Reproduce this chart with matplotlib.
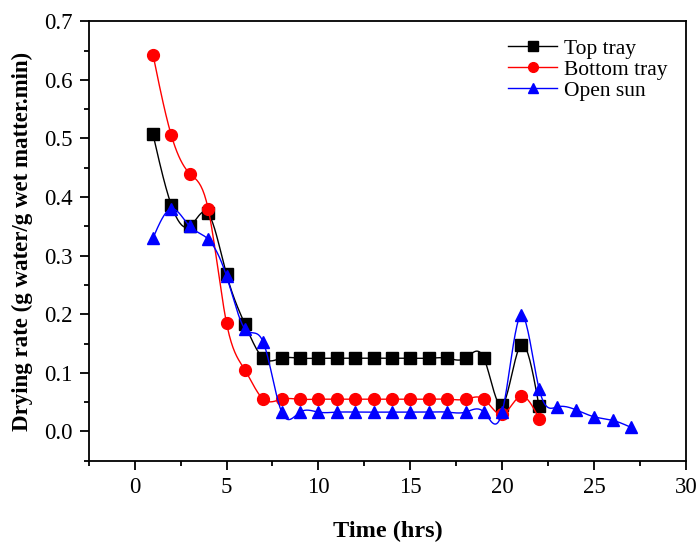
import numpy as np
import matplotlib.pyplot as plt
from matplotlib.ticker import MultipleLocator

plt.rcParams["font.family"] = ["Liberation Serif", "DejaVu Serif"]

time_top = [1, 2, 3, 4, 5, 6, 7, 8, 9, 10, 11, 12, 13, 14, 15, 16, 17, 18, 19, 20, 21, 22]
top_tray = [0.507, 0.386, 0.350, 0.372, 0.268, 0.183, 0.125, 0.125, 0.125, 0.125, 0.125,
            0.125, 0.125, 0.125, 0.125, 0.125, 0.125, 0.125, 0.125, 0.045, 0.147, 0.043]

time_bottom = [1, 2, 3, 4, 5, 6, 7, 8, 9, 10, 11, 12, 13, 14, 15, 16, 17, 18, 19, 20, 21, 22]
bottom_tray = [0.643, 0.505, 0.440, 0.380, 0.185, 0.105, 0.055, 0.055, 0.055, 0.055, 0.055,
               0.055, 0.055, 0.055, 0.055, 0.055, 0.055, 0.055, 0.055, 0.029, 0.060, 0.022]

time_sun = [1, 2, 3, 4, 5, 6, 7, 8, 9, 10, 11, 12, 13, 14, 15, 16, 17, 18, 19, 20, 21, 22,
            23, 24, 25, 26, 27]
open_sun = [0.330, 0.380, 0.350, 0.328, 0.265, 0.175, 0.152, 0.033, 0.033, 0.033, 0.033,
            0.033, 0.033, 0.033, 0.033, 0.033, 0.033, 0.033, 0.033, 0.034, 0.198, 0.073,
            0.042, 0.037, 0.025, 0.019, 0.007]


def natural_spline(x, y, n=20):
    # natural cubic spline through the points, for the smoothed connecting line
    x = np.asarray(x, float)
    y = np.asarray(y, float)
    k = len(x)
    h = np.diff(x)
    A = np.zeros((k, k))
    b = np.zeros(k)
    A[0, 0] = A[-1, -1] = 1
    for i in range(1, k - 1):
        A[i, i - 1] = h[i - 1]
        A[i, i] = 2 * (h[i - 1] + h[i])
        A[i, i + 1] = h[i]
        b[i] = 6 * ((y[i + 1] - y[i]) / h[i] - (y[i] - y[i - 1]) / h[i - 1])
    M = np.linalg.solve(A, b)
    xs, ys = [], []
    for i in range(k - 1):
        t = np.linspace(x[i], x[i + 1], n, endpoint=False)
        a = (x[i + 1] - t) / h[i]
        c = (t - x[i]) / h[i]
        s = (a * y[i] + c * y[i + 1]
             + ((a ** 3 - a) * M[i] + (c ** 3 - c) * M[i + 1]) * h[i] ** 2 / 6)
        xs.append(t)
        ys.append(s)
    xs.append([x[-1]])
    ys.append([y[-1]])
    return np.concatenate(xs), np.concatenate(ys)


fig = plt.figure(figsize=(6.98, 5.44), dpi=100)
ax = fig.add_axes([0.127, 0.153, 0.856, 0.808])

series = [
    (time_top, top_tray, "black", "s", 8, "Top tray"),
    (time_bottom, bottom_tray, "red", "o", 8.5, "Bottom tray"),
    (time_sun, open_sun, "blue", "^", 9, "Open sun"),
]
for x, y, color, marker, ms, label in series:
    sx, sy = natural_spline(x, y)
    ax.plot(sx, sy, color=color, lw=1)
    ax.plot(x, y, ls="none", marker=marker, color=color, ms=ms)
    ax.plot([], [], color=color, lw=1, marker=marker, ms=7, label=label)

ax.set_xlim(-2.5, 30)
ax.set_ylim(-0.05, 0.7)
ax.xaxis.set_major_locator(MultipleLocator(5))
ax.xaxis.set_minor_locator(MultipleLocator(2.5))
ax.yaxis.set_major_locator(MultipleLocator(0.1))
ax.yaxis.set_minor_locator(MultipleLocator(0.05))
ax.set_yticks(np.arange(0, 0.71, 0.1))
ax.tick_params(which="both", direction="out", top=False, right=False, labelsize=16.5,
               width=1.3, pad=5)
ax.tick_params(which="major", length=6.5)
ax.tick_params(which="minor", length=3.5)
for sp in ax.spines.values():
    sp.set_linewidth(1.3)

ax.set_xlabel("Time (hrs)", fontsize=17.5, fontweight="bold", labelpad=17)
ax.set_ylabel("Drying rate (g water/g wet matter.min)", fontsize=16.5, fontweight="bold", labelpad=8)

ax.legend(loc="upper right", frameon=False, fontsize=15.5, handlelength=2.3,
          handletextpad=0.3, labelspacing=0.05, borderaxespad=0.2,
          bbox_to_anchor=(0.99, 0.99))

fig.savefig("out.png", dpi=100)
